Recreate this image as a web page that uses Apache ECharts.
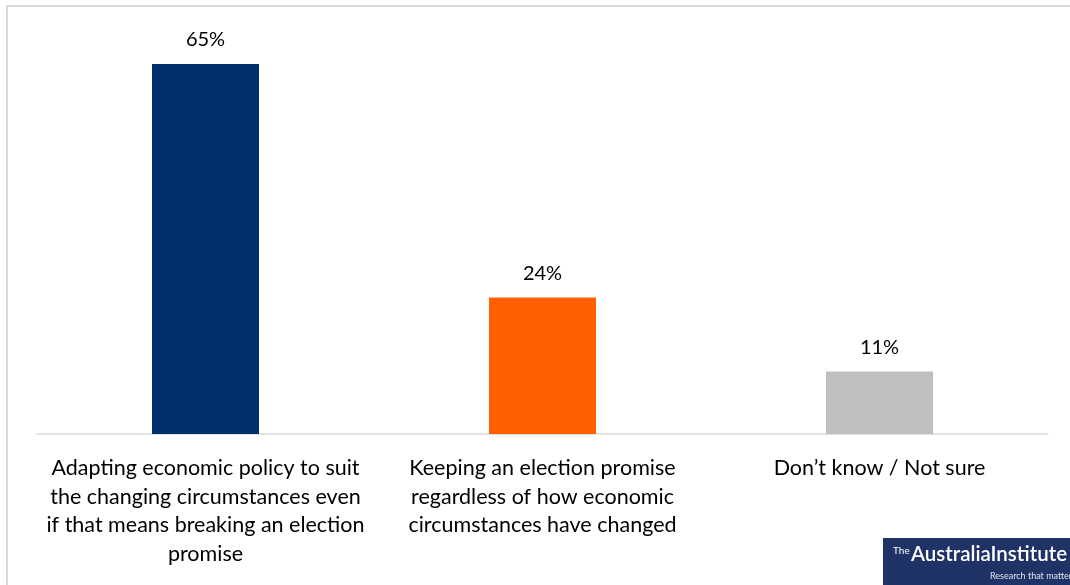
<!DOCTYPE html>
<html><head><meta charset="utf-8">
<script src="https://cdn.jsdelivr.net/npm/echarts@6/dist/echarts.min.js"></script>
<style>html,body{margin:0;padding:0;background:#fff}#c{width:1070px;height:585px}</style>
</head><body><div id="c"></div>
<script>
const categories = [
  'Adapting economic policy to suit\nthe changing circumstances even\nif that means breaking an election\npromise',
  'Keeping an election promise\nregardless of how economic\ncircumstances have changed',
  'Don\u2019t know / Not sure'
];
const values = [65, 24, 11];
const barColors = ['#002F6C', '#FF5F00', '#BFBFBF'];

const chart = echarts.init(document.getElementById('c'), null, {renderer: 'canvas'});
const font = 'Lato, "Open Sans", sans-serif';
chart.setOption({
  animation: false,
  backgroundColor: '#fff',
  grid: {left: 37, right: 22, top: 64, bottom: 151, containLabel: false},
  xAxis: {
    type: 'category', data: categories,
    axisLine: {lineStyle: {color: '#d9d9d9', width: 1.5}},
    axisTick: {show: false},
    axisLabel: {color: '#000', fontSize: 21.5, fontFamily: font, lineHeight: 28.5, margin: 20, interval: 0, align: 'center'}
  },
  yAxis: {type: 'value', min: 0, max: 65, show: false, splitLine: {show: false}},
  series: [{
    type: 'bar', barWidth: 107,
    data: values.map((v, i) => ({value: v, itemStyle: {color: barColors[i]}})),
    label: {show: true, position: 'top', distance: 14, formatter: '{c}%', color: '#000', fontSize: 20, fontFamily: font}
  }],
  graphic: [
    {type: 'rect', shape: {x: 7, y: 6, width: 1200, height: 700}, style: {fill: 'none', stroke: '#d9d9d9', lineWidth: 2}, silent: true},
    {type: 'rect', shape: {x: 883, y: 538, width: 200, height: 50}, style: {fill: '#1F3366'}},
    {type: 'text', left: 893, top: 546, style: {text: 'The', fill: '#fff', font: '10px ' + font}},
    {type: 'text', left: 911, top: 544, style: {text: 'AustraliaInstitute', fill: '#fff', font: '600 20.5px ' + font, letterSpacing: -0.4}},
    {type: 'text', left: 990, top: 572, style: {text: 'Research that matters', fill: '#dfe4ee', font: '9px ' + font}}
  ]
});
</script></body></html>
